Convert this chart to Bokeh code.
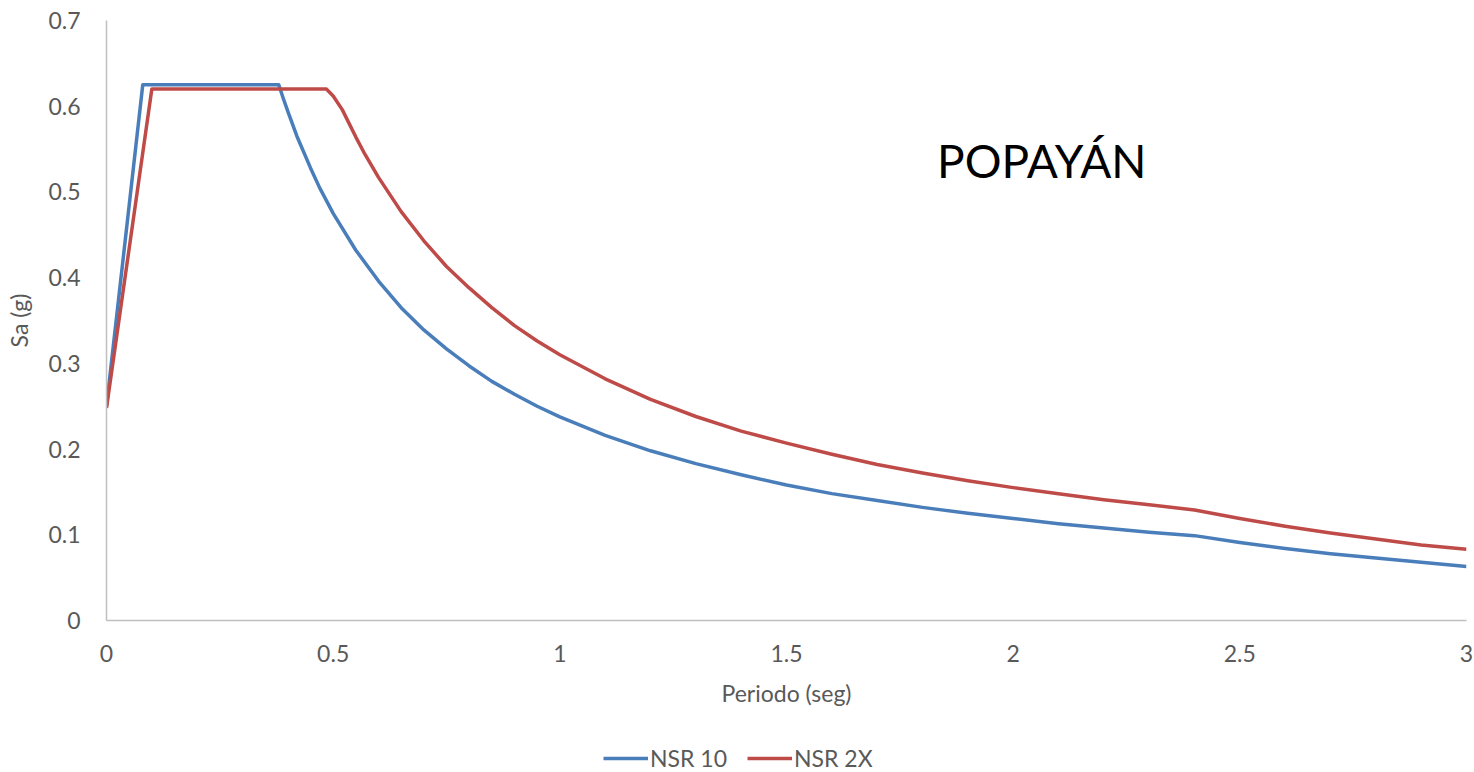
from bokeh.plotting import figure
from bokeh.models import Legend, LegendItem, Label, FixedTicker, Range1d
from bokeh.layouts import column
from bokeh.embed import file_html
from bokeh.resources import INLINE

# Periodo (seg) and Sa (g)
t_nsr10 = [0.0, 0.08, 0.38, 0.39, 0.40, 0.42, 0.45, 0.47, 0.50, 0.55, 0.60, 0.65, 0.70, 0.75, 0.80, 0.85, 0.90, 0.95,
           1.0, 1.1, 1.2, 1.3, 1.4, 1.5, 1.6, 1.7, 1.8, 1.9, 2.0, 2.1, 2.2, 2.3, 2.4,
           2.5, 2.6, 2.7, 2.8, 2.9, 3.0]
sa_nsr10 = [0.25, 0.625, 0.625, 0.609, 0.594, 0.565, 0.528, 0.505, 0.475, 0.432, 0.396, 0.365, 0.339, 0.317, 0.297, 0.279, 0.264, 0.250,
            0.2375, 0.216, 0.198, 0.183, 0.170, 0.158, 0.148, 0.140, 0.132, 0.125, 0.119, 0.113, 0.108, 0.103, 0.099,
            0.091, 0.084, 0.078, 0.073, 0.068, 0.063]

t_nsr2x = [0.0, 0.10, 0.485, 0.50, 0.52, 0.55, 0.57, 0.60, 0.65, 0.70, 0.75, 0.80, 0.85, 0.90, 0.95,
           1.0, 1.1, 1.2, 1.3, 1.4, 1.5, 1.6, 1.7, 1.8, 1.9, 2.0, 2.1, 2.2, 2.3, 2.4,
           2.5, 2.6, 2.7, 2.8, 2.9, 3.0]
sa_nsr2x = [0.248, 0.62, 0.62, 0.612, 0.596, 0.564, 0.544, 0.517, 0.477, 0.443, 0.413, 0.388, 0.365, 0.344, 0.326,
            0.310, 0.282, 0.258, 0.238, 0.221, 0.207, 0.194, 0.182, 0.172, 0.163, 0.155, 0.148, 0.141, 0.135, 0.129,
            0.119, 0.110, 0.102, 0.095, 0.088, 0.083]

x_ticks = [0, 0.5, 1, 1.5, 2, 2.5, 3]
y_ticks = [0, 0.1, 0.2, 0.3, 0.4, 0.5, 0.6, 0.7]
series_names = ["NSR 10", "NSR 2X"]
title_text = "POPAYÁN"

FONT = "Lato"
GREY = "#595959"
FS = "23px"
BLUE = "#4A7EBB"
RED = "#BE4B48"

p = figure(width=1474, height=715, output_backend="svg", toolbar_location=None,
           x_range=Range1d(0, 3), y_range=Range1d(0, 0.7),
           min_border_left=106, min_border_right=8, min_border_top=20, min_border_bottom=95)
p.outline_line_color = None
p.xgrid.grid_line_color = None
p.ygrid.grid_line_color = None
p.background_fill_color = "white"
p.border_fill_color = "white"

p.line(t_nsr10, sa_nsr10, line_color=BLUE, line_width=3.5, line_join="round")
p.line(t_nsr2x, sa_nsr2x, line_color=RED, line_width=3.5, line_join="round")

for ax in (p.xaxis[0], p.yaxis[0]):
    ax.axis_line_color = "#BFBFBF"
    ax.axis_line_width = 1.5
    ax.major_tick_line_color = None
    ax.minor_tick_line_color = None
    ax.major_tick_in = 0
    ax.major_tick_out = 0
    ax.minor_tick_in = 0
    ax.minor_tick_out = 0
    ax.major_label_text_font = FONT
    ax.major_label_text_font_size = FS
    ax.major_label_text_color = GREY
    ax.axis_label_text_font = FONT
    ax.axis_label_text_font_size = FS
    ax.axis_label_text_color = GREY
    ax.axis_label_text_font_style = "normal"

p.xaxis[0].ticker = FixedTicker(ticks=x_ticks)
p.yaxis[0].ticker = FixedTicker(ticks=y_ticks)
p.xaxis[0].axis_label = "Periodo (seg)"
p.yaxis[0].axis_label = "Sa (g)"
p.xaxis[0].major_label_standoff = 24
p.yaxis[0].major_label_standoff = 26
p.xaxis[0].axis_label_standoff = 14
p.yaxis[0].axis_label_standoff = 12

p.add_layout(Label(x=2.063, y=0.537, text=title_text, text_align="center", text_baseline="middle",
                   text_font=FONT, text_font_size="46px", text_color="black"))

# Legend strip below the chart (same series, drawn off-range so only the legend shows)
pl = figure(width=1474, height=57, output_backend="svg", toolbar_location=None,
            x_range=Range1d(100, 101), y_range=Range1d(100, 101),
            min_border_left=0, min_border_right=0, min_border_top=0, min_border_bottom=0)
pl.axis.visible = False
pl.grid.visible = False
pl.outline_line_color = None
pl.border_fill_color = "white"
l1 = pl.line(t_nsr10, sa_nsr10, line_color=BLUE, line_width=3.5)
l2 = pl.line(t_nsr2x, sa_nsr2x, line_color=RED, line_width=3.5)

legend = Legend(items=[LegendItem(label=series_names[0], renderers=[l1]),
                       LegendItem(label=series_names[1], renderers=[l2])],
                orientation="horizontal", location=(497, 0),
                label_text_font=FONT, label_text_font_size=FS, label_text_color=GREY,
                glyph_width=45, label_standoff=2, spacing=20,
                border_line_color=None, background_fill_alpha=0, margin=0, padding=0)
pl.add_layout(legend)

open("out.html", "w").write(file_html(column(p, pl, spacing=0), INLINE))
